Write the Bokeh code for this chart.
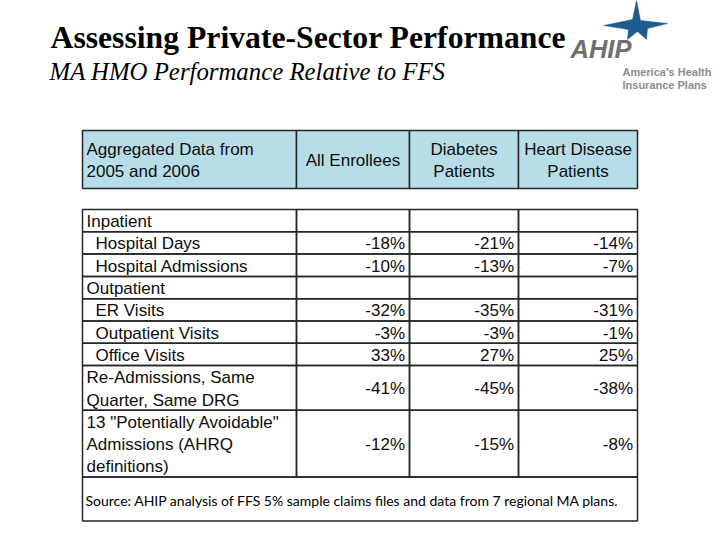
from bokeh.plotting import figure
from bokeh.models import Range1d
from bokeh.core.properties import value
from bokeh.embed import file_html
from bokeh.resources import INLINE

# ---------------- data ----------------
title = "Assessing Private-Sector Performance"
subtitle = "MA HMO Performance Relative to FFS"
logo_name = "AHIP"
logo_tagline = ["America\u2019s Health", "Insurance Plans"]

header_labels = [["Aggregated Data from", "2005 and 2006"],
                 ["All Enrollees"],
                 ["Diabetes", "Patients"],
                 ["Heart Disease", "Patients"]]

row_labels = [["Inpatient"],
              ["Hospital Days"],
              ["Hospital Admissions"],
              ["Outpatient"],
              ["ER Visits"],
              ["Outpatient Visits"],
              ["Office Visits"],
              ["Re-Admissions, Same", "Quarter, Same DRG"],
              ['13 "Potentially Avoidable"', "Admissions (AHRQ", "definitions)"]]
row_is_subitem = [False, True, True, False, True, True, True, False, False]

all_enrollees = [None, -18, -10, None, -32, -3, 33, -41, -12]
diabetes      = [None, -21, -13, None, -35, -3, 27, -45, -15]
heart_disease = [None, -14, -7, None, -31, -1, 25, -38, -8]

source_note = "Source:  AHIP analysis of FFS 5% sample claims files and  data from 7 regional MA plans."

# ---------------- layout / style ----------------
W, H = 716, 536
col_edges = [82, 296, 409, 518, 637]
header_top, header_bottom = 130, 188
body_top = 209
line_h = 22.3
source_h = 44
FONT = value("Liberation Sans")
SERIF = value("Liberation Serif")
FS = 17
border = "#262626"
hdr_fill = "#b7dde8"
txt = "#0d0d0d"
K = 0.30  # baseline correction (fraction of font size)


def base(y, size):
    return y - K * size


p = figure(width=W, height=H, output_backend="svg", toolbar_location=None,
           x_range=Range1d(0, W), y_range=Range1d(H, 0),
           x_axis_location=None, y_axis_location=None,
           min_border=0, outline_line_color=None, background_fill_color="white",
           border_fill_color="white")
p.grid.visible = False

# title block
p.text(x=[50], y=[base(47, 31.7)], text=[title], text_font=SERIF, text_font_size="31.7px",
       text_font_style="bold", text_color="#000000", text_baseline="alphabetic")
p.text(x=[49], y=[base(78, 24.8)], text=[subtitle], text_font=SERIF, text_font_size="24.8px",
       text_font_style="italic", text_color="#000000", text_baseline="alphabetic")

# logo
star_x = [636, 640, 667, 647, 646, 637, 627, 628, 603, 632]
star_y = [0, 20, 23, 28, 39, 31, 39, 29, 25, 19]
p.patch(star_x, star_y, color="#1f5c8c", line_width=0.5)
p.text(x=[570], y=[base(56, 25.5)], text=[logo_name], text_font=FONT, text_font_size="25.5px",
       text_font_style="bold italic", text_color="#6d716f", text_baseline="alphabetic")
p.text(x=[622, 622], y=[base(75, 11), base(87.5, 11)], text=logo_tagline, text_font=FONT,
       text_font_size="11px", text_font_style="bold", text_color="#8c8c8c",
       text_baseline="alphabetic")

# header
p.quad(left=col_edges[:-1], right=col_edges[1:], top=[header_top] * 4,
       bottom=[header_bottom] * 4, fill_color=hdr_fill, line_color=border, line_width=1.5)
hc = (header_top + header_bottom) / 2
cap_off = 6.1
for ci, lines in enumerate(header_labels):
    n = len(lines)
    ys = [base(hc + (i - (n - 1) / 2) * 22 + cap_off, FS) for i in range(n)]
    if ci == 0:
        p.text(x=[col_edges[0] + 4] * n, y=ys, text=lines, text_font=FONT, text_font_size=f"{FS}px",
               text_color=txt, text_baseline="alphabetic", text_align="left")
    else:
        cx = (col_edges[ci] + col_edges[ci + 1]) / 2
        p.text(x=[cx] * n, y=ys, text=lines, text_font=FONT, text_font_size=f"{FS}px",
               text_color=txt, text_baseline="alphabetic", text_align="center")

# body rows
tops, bots = [], []
y = body_top
for lines in row_labels:
    h = len(lines) * line_h
    tops.append(y)
    bots.append(y + h)
    y += h
body_bottom = y

for ci in range(4):
    p.quad(left=[col_edges[ci]] * len(tops), right=[col_edges[ci + 1]] * len(tops),
           top=tops, bottom=bots, fill_color=None, line_color=border, line_width=1.5)

lx, ly, lt = [], [], []
for r, lines in enumerate(row_labels):
    for i, s in enumerate(lines):
        lx.append(col_edges[0] + (13 if row_is_subitem[r] else 4))
        ly.append(base(tops[r] + (i + 0.5) * line_h + cap_off, FS))
        lt.append(s)
p.text(x=lx, y=ly, text=lt, text_font=FONT, text_font_size=f"{FS}px", text_color=txt,
       text_baseline="alphabetic", text_align="left")

for ci, series in enumerate([all_enrollees, diabetes, heart_disease]):
    vx, vy, vt = [], [], []
    for r, v in enumerate(series):
        if v is None:
            continue
        vx.append(col_edges[ci + 2] - 4.5)
        vy.append(base((tops[r] + bots[r]) / 2 + cap_off, FS))
        vt.append(f"{v}%")
    p.text(x=vx, y=vy, text=vt, text_font=FONT, text_font_size=f"{FS}px", text_color=txt,
           text_baseline="alphabetic", text_align="right")

# source row
p.quad(left=[col_edges[0]], right=[col_edges[-1]], top=[body_bottom],
       bottom=[body_bottom + source_h], fill_color=None, line_color=border, line_width=1.5)
p.text(x=[col_edges[0] + 3], y=[base(body_bottom + 27.5, 14)], text=[source_note],
       text_font=value("Lato"), text_font_size="14px", text_color="#000000",
       text_baseline="alphabetic", text_align="left")

open("out.html", "w").write(file_html(p, INLINE))
